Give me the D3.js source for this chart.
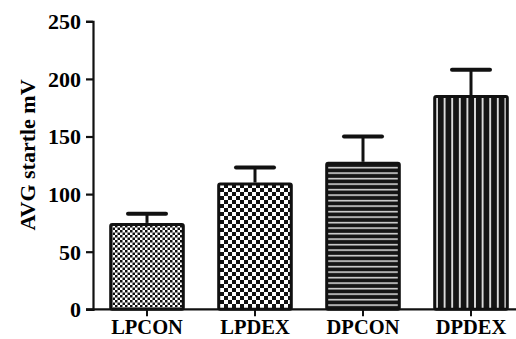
<!DOCTYPE html>
<html><head><meta charset="utf-8">
<script src="https://cdn.jsdelivr.net/npm/d3@7"></script>
<style>body{margin:0;background:#fff}svg{display:block}text{font-family:"Liberation Serif","Times New Roman",serif;font-weight:bold;fill:#000}</style>
</head><body>
<svg id="c" width="516" height="339"></svg>
<script>
const categories = ["LPCON","LPDEX","DPCON","DPDEX"];
const means = [75, 110, 128, 186];
const errors = [8, 13, 22, 22];
const yTicks = [0,50,100,150,200,250];
const patterns = ["checkFine","checkCoarse","hlines","vlines"];

const svg = d3.select("#c");
const defs = svg.append("defs");
let p = defs.append("pattern").attr("id","checkFine").attr("patternUnits","userSpaceOnUse").attr("width",5).attr("height",5);
p.append("rect").attr("width",5).attr("height",5).attr("fill","#fff");
p.append("rect").attr("width",2.5).attr("height",2.5).attr("fill","#111");
p.append("rect").attr("x",2.5).attr("y",2.5).attr("width",2.5).attr("height",2.5).attr("fill","#111");
p = defs.append("pattern").attr("id","checkCoarse").attr("patternUnits","userSpaceOnUse").attr("width",8).attr("height",8);
p.append("rect").attr("width",8).attr("height",8).attr("fill","#fff");
p.append("rect").attr("width",4).attr("height",4).attr("fill","#111");
p.append("rect").attr("x",4).attr("y",4).attr("width",4).attr("height",4).attr("fill","#111");
p = defs.append("pattern").attr("id","hlines").attr("patternUnits","userSpaceOnUse").attr("width",10).attr("height",5.5);
p.append("rect").attr("width",10).attr("height",5.5).attr("fill","#151515");
p.append("rect").attr("y",2).attr("width",10).attr("height",1.3).attr("fill","#fff");
p = defs.append("pattern").attr("id","vlines").attr("patternUnits","userSpaceOnUse").attr("width",7.6).attr("height",10);
p.append("rect").attr("width",7.6).attr("height",10).attr("fill","#151515");
p.append("rect").attr("x",3).attr("width",1.6).attr("height",10).attr("fill","#fff");

const x = d3.scaleBand().domain(categories).range([93, 525]).paddingInner(0.3).paddingOuter(0.15);
const y = d3.scaleLinear().domain([0,250]).range([309.3, 21.3]);

const g = svg.append("g");
categories.forEach((c,i)=>{
  const cx = x(c) + x.bandwidth()/2;
  g.append("line").attr("x1",cx).attr("x2",cx).attr("y1",y(means[i])).attr("y2",y(means[i]+errors[i]))
    .attr("stroke","#111").attr("stroke-width",3);
  g.append("line").attr("x1",cx-19).attr("x2",cx+19).attr("y1",y(means[i]+errors[i])).attr("y2",y(means[i]+errors[i]))
    .attr("stroke","#111").attr("stroke-width",4).attr("stroke-linecap","round");
});
g.selectAll("rect.bar").data(categories).join("rect").attr("class","bar")
  .attr("x", d=>x(d)+1.5).attr("width", x.bandwidth()-3)
  .attr("y", (d,i)=>y(means[i])+1.5).attr("height",(d,i)=>y(0)-y(means[i])-1.5)
  .attr("fill",(d,i)=>`url(#${patterns[i]})`)
  .attr("stroke","#111").attr("stroke-width",3).attr("rx",1.5);

const ya = svg.append("g").attr("transform","translate(93,0)")
  .call(d3.axisLeft(y).tickValues(yTicks).tickSize(7).tickPadding(5));
ya.attr("font-size",null).attr("font-family",null);
ya.select(".domain").attr("stroke","#111").attr("stroke-width",2.2);
ya.selectAll(".tick line").attr("stroke","#111").attr("stroke-width",2.2);
ya.selectAll(".tick text").style("font-size","22px").attr("dy","0.34em");

const xa = svg.append("g").attr("transform",`translate(0,${y(0)})`)
  .call(d3.axisBottom(x).tickSize(7).tickPadding(3.5).tickSizeOuter(0));
xa.attr("font-size",null).attr("font-family",null);
xa.select(".domain").attr("stroke","#111").attr("stroke-width",2.2).attr("d","M86,0H516");
xa.selectAll(".tick line").attr("stroke","#111").attr("stroke-width",2);
xa.selectAll(".tick text").style("font-size","20.5px");

svg.append("text").attr("transform","translate(35,155) rotate(-90)").attr("text-anchor","middle")
  .style("font-size","22px").text("AVG startle mV");
</script>
</body></html>
